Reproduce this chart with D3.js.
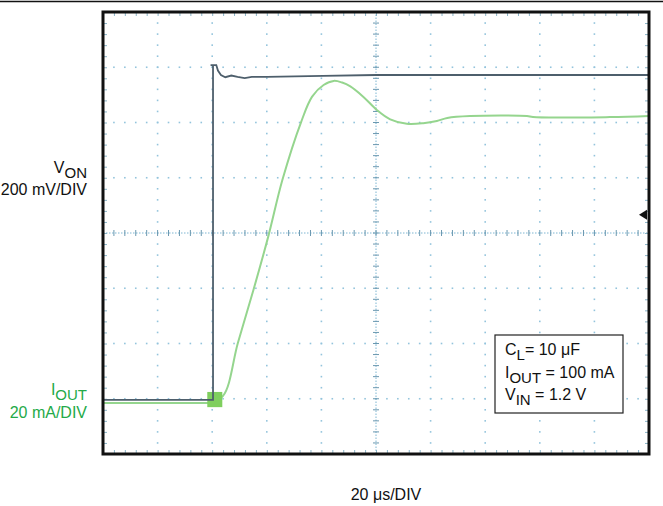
<!DOCTYPE html>
<html>
<head>
<meta charset="utf-8">
<script src="https://cdn.jsdelivr.net/npm/d3@7"></script>
<style>
  body { margin: 0; background: #fff; }
  text { font-family: "Liberation Sans", Arial, sans-serif; }
</style>
</head>
<body>
<div id="scope"></div>
<script>
var svgWidth = 663;
var svgHeight = 506;

// scope screen, 10 x 8 divisions
var margin = { top: 12, right: 14, bottom: 52, left: 103 };

// time base 20 us/DIV
var timeUs = [0, 200];
var timeDivs = d3.range(0, 201, 20);
var timeMinor = d3.range(0, 200.01, 4);
var vertDivs = d3.range(0, 8.01, 1);
var vertMinor = d3.range(0, 8.01, 0.2);

// channel 1: V_ON (200 mV/DIV), ground about one division up
var vonTime = [0, 40.3, 40.3, 39.4, 41.5, 42.1, 43.2, 44.8, 47.0, 49.3, 51.9, 54.5, 60.0, 80.6, 100, 200];
var vonMv   = [0, 0, 1212, 1212, 1212, 1192, 1176, 1168, 1174, 1169, 1165, 1169, 1169, 1173, 1176, 1176];

// channel 2: I_OUT (20 mA/DIV)
var ioutTime = [0, 20, 37.6, 38.2, 43.9, 49.4, 55.1, 60.6, 65.7, 72.6, 76.6, 80.8, 84.5, 87.6, 90.6, 95.3, 100.3, 105.2, 111.3, 117.3, 122.3, 126.1, 134.5, 155.3, 157.5, 185.7, 200];
var ioutMa   = [0, 0, 0, 0, 2.5, 21.7, 40.9, 60.5, 80.7, 101.8, 110.9, 115.1, 116.6, 116.0, 114.6, 110.9, 106.1, 102.7, 101.1, 101.3, 102.1, 103.2, 103.9, 103.9, 103.5, 103.5, 103.9];

// switching glitch at the enable edge
var glitchTime = [38.2, 43.7];
var glitchMa = [-1.5, 4];

var triggerMv = 670;

var legendLines = [
  { main: "C", sub: "L", rest: "= 10 \u03bcF" },
  { main: "I", sub: "OUT", rest: " = 100 mA" },
  { main: "V", sub: "IN", rest: " = 1.2 V" }
];

var width = svgWidth - margin.left - margin.right;
var height = svgHeight - margin.top - margin.bottom;

var svg = d3.select("#scope")
  .append("svg")
  .attr("width", svgWidth)
  .attr("height", svgHeight);

var xScale = d3.scaleLinear().domain(timeUs).range([margin.left, margin.left + width]);
var yDiv = d3.scaleLinear().domain([0, 8]).range([margin.top + height, margin.top]);
// channel offsets in divisions
var vonZero = 0.98, ioutZero = 0.923;
var yVon = d3.scaleLinear().domain([-vonZero * 200, (8 - vonZero) * 200]).range(yDiv.range());
var yIout = d3.scaleLinear().domain([-ioutZero * 20, (8 - ioutZero) * 20]).range(yDiv.range());

// rule across the top of the page
svg.append("line")
  .attr("x1", 0).attr("x2", svgWidth)
  .attr("y1", 1.5).attr("y2", 1.5)
  .attr("stroke", "#111").attr("stroke-width", 1.6);

var grid = svg.append("g");
var dotColor = "#93c4dc";

// dotted graticule on each division line
timeDivs.slice(1, -1).forEach(function(t) {
  if (t === 100) return;
  grid.selectAll(null)
    .data(vertMinor)
    .enter()
    .append("rect")
    .attr("x", xScale(t) - 0.8)
    .attr("y", d => yDiv(d) - 0.8)
    .attr("width", 1.6).attr("height", 1.6)
    .attr("fill", dotColor);
});
vertDivs.slice(1, -1).forEach(function(v) {
  if (v === 4) return;
  grid.selectAll(null)
    .data(timeMinor)
    .enter()
    .append("rect")
    .attr("x", d => xScale(d) - 0.8)
    .attr("y", yDiv(v) - 0.8)
    .attr("width", 1.6).attr("height", 1.6)
    .attr("fill", dotColor);
});

// centre cross with minor ticks
grid.append("line")
  .attr("x1", xScale(0)).attr("x2", xScale(200))
  .attr("y1", yDiv(4)).attr("y2", yDiv(4))
  .attr("stroke", "#7fb6d2").attr("stroke-width", 1).attr("stroke-dasharray", "1.5,1.5");
grid.append("line")
  .attr("x1", xScale(100)).attr("x2", xScale(100))
  .attr("y1", yDiv(0)).attr("y2", yDiv(8))
  .attr("stroke", "#7fb6d2").attr("stroke-width", 1).attr("stroke-dasharray", "1.5,1.5");
grid.selectAll(null)
  .data(timeMinor)
  .enter()
  .append("line")
  .attr("x1", d => xScale(d)).attr("x2", d => xScale(d))
  .attr("y1", yDiv(4) - 3).attr("y2", yDiv(4) + 3)
  .attr("stroke", "#6a98b0").attr("stroke-width", 1);
grid.selectAll(null)
  .data(vertMinor)
  .enter()
  .append("line")
  .attr("x1", xScale(100) - 3).attr("x2", xScale(100) + 3)
  .attr("y1", d => yDiv(d)).attr("y2", d => yDiv(d))
  .attr("stroke", "#6a98b0").attr("stroke-width", 1);

// minor ticks along the frame
var topAxis = d3.axisBottom(xScale).tickValues(timeMinor).tickSize(4).tickFormat("");
var bottomAxis = d3.axisTop(xScale).tickValues(timeMinor).tickSize(4).tickFormat("");
var leftAxis = d3.axisRight(yDiv).tickValues(vertMinor).tickSize(4).tickFormat("");
var rightAxis = d3.axisLeft(yDiv).tickValues(vertMinor).tickSize(4).tickFormat("");
[[topAxis, `translate(0, ${yDiv(8)})`], [bottomAxis, `translate(0, ${yDiv(0)})`],
 [leftAxis, `translate(${xScale(0)}, 0)`], [rightAxis, `translate(${xScale(200)}, 0)`]].forEach(function(a) {
  var g = grid.append("g").attr("transform", a[1]).call(a[0]);
  g.select(".domain").remove();
  g.selectAll(".tick line").attr("stroke", "#8ab4c8").attr("stroke-width", 1);
});

// traces
var vonData = vonTime.map((t, i) => ({ t: t, v: vonMv[i] }));
var ioutData = ioutTime.map((t, i) => ({ t: t, v: ioutMa[i] }));

svg.append("path")
  .datum(ioutData)
  .attr("fill", "none")
  .attr("stroke", "#95d58e")
  .attr("stroke-width", 2)
  .attr("d", d3.line().x(d => xScale(d.t)).y(d => yIout(d.v)).curve(d3.curveCatmullRom.alpha(0.5)));

svg.append("rect")
  .attr("x", xScale(glitchTime[0]))
  .attr("y", yIout(glitchMa[1]))
  .attr("width", xScale(glitchTime[1]) - xScale(glitchTime[0]))
  .attr("height", yIout(glitchMa[0]) - yIout(glitchMa[1]))
  .attr("fill", "#7fcf5e");

svg.append("path")
  .datum(vonData)
  .attr("fill", "none")
  .attr("stroke", "#4e5f6c")
  .attr("stroke-width", 1.8)
  .attr("d", d3.line().x(d => xScale(d.t)).y(d => yVon(d.v)));

// trigger level marker
var ty = yVon(triggerMv), tx = xScale(200) - 2;
svg.append("path")
  .attr("d", `M${tx - 8},${ty} L${tx},${ty - 5} L${tx},${ty + 5} Z`)
  .attr("fill", "#111");

// frame
svg.append("rect")
  .attr("x", xScale(0)).attr("y", yDiv(8))
  .attr("width", xScale(200) - xScale(0))
  .attr("height", yDiv(0) - yDiv(8))
  .attr("fill", "none")
  .attr("stroke", "#111")
  .attr("stroke-width", 3);

// channel labels
function subText(g, x, y, main, sub, rest, color, size, subSize) {
  var t = g.append("text")
    .attr("x", x).attr("y", y)
    .attr("fill", color)
    .style("font-size", size + "px");
  t.append("tspan").text(main);
  t.append("tspan").attr("dy", 5).style("font-size", subSize + "px").text(sub);
  if (rest) t.append("tspan").attr("dy", -5).text(rest);
  return t;
}

subText(svg, 87, 173, "V", "ON", null, "#111", 16, 15).attr("text-anchor", "end");
svg.append("text")
  .attr("x", 87).attr("y", 195)
  .attr("text-anchor", "end")
  .style("font-size", "16px")
  .attr("fill", "#111")
  .text("200 mV/DIV");

subText(svg, 87, 395, "I", "OUT", null, "#24aa48", 16, 15).attr("text-anchor", "end");
svg.append("text")
  .attr("x", 87).attr("y", 418)
  .attr("text-anchor", "end")
  .style("font-size", "16px")
  .attr("fill", "#24aa48")
  .text("20 mA/DIV");

svg.append("text")
  .attr("x", 386).attr("y", 500)
  .attr("text-anchor", "middle")
  .style("font-size", "16px")
  .attr("fill", "#111")
  .text("20 \u03bcs/DIV");

// conditions box
var legend = svg.append("g");
legend.append("rect")
  .attr("x", 495).attr("y", 335)
  .attr("width", 128).attr("height", 78)
  .attr("fill", "#fff")
  .attr("stroke", "#222")
  .attr("stroke-width", 1.2);
legendLines.forEach(function(l, i) {
  subText(legend, 505, 355 + i * 22.5, l.main, l.sub, l.rest, "#111", 16, 15);
});
</script>
</body>
</html>
